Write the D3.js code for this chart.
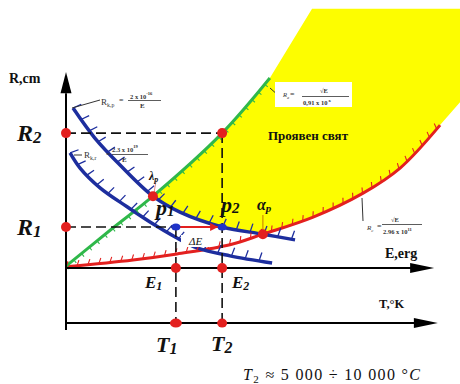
<!DOCTYPE html>
<html><head><meta charset="utf-8">
<script src="https://cdn.jsdelivr.net/npm/d3@7"></script>
<style>body{margin:0;background:#fff}svg{display:block}</style>
</head><body>
<svg id="c" width="460" height="384"></svg>
<script>
// ---- data (schematic units: E 0..10, R 0..5) ----
const redCurve   = [[0,0.03],[1.81,0.21],[3.0,0.37],[4.43,0.61],[5.32,0.89],[6.68,1.34],[8.03,1.97],[9.03,2.63],[10.11,3.76]];
const greenLine  = [[0,0.05],[1.2,1.0],[2.35,1.89],[4.22,3.55],[5.51,5.0]];
const blueUpper  = [[0.19,4.21],[0.78,3.42],[1.46,2.71],[2.35,1.89],[3.08,1.47],[4.22,1.08],[5.32,0.89],[6.19,0.74]];
const blueLower  = [[0.11,3.03],[0.38,2.63],[0.92,2.11],[1.65,1.61],[2.27,1.21],[3.0,0.79],[3.54,0.53],[4.43,0.32],[5.57,0.13]];
const litCorner  = [[6.65,6.82],[10.7,6.82],[10.7,4.42]];
const lambdaP    = [2.35,1.89];
const alphaP     = [5.32,0.89];
const rLevels    = [3.55,1.08];
const rSubs      = ["2","1"];
const eLevels    = [2.97,4.22];
const eSubs      = ["1","2"];
const tSubs      = ["1","2"];
const tAxisR     = -1.45;
const axisLabels = ["R,cm","E,erg","T,°K"];

const svg = d3.select("#c");
const x = d3.scaleLinear().domain([0,10]).range([66,436]);
const y = d3.scaleLinear().domain([0,5]).range([268,78]);
const line = d3.line().x(d=>x(d[0])).y(d=>y(d[1])).curve(d3.curveCatmullRom.alpha(0.5));

const BLUE="#1d2e9e", RED="#e3201f", GREEN="#2fb84a", YELLOW="#fdfd00";
const SERIF="'Liberation Serif','DejaVu Serif',serif";

const gYellow = svg.append("g");
const gCurves = svg.append("g");
const gTicks  = svg.append("g");

const redP   = gCurves.append("path").attr("d",line(redCurve)).attr("fill","none").attr("stroke",RED).attr("stroke-width",3);
const greenP = gCurves.append("path").attr("d",line(greenLine)).attr("fill","none").attr("stroke",GREEN).attr("stroke-width",3);
const bluU   = gCurves.append("path").attr("d",line(blueUpper)).attr("fill","none").attr("stroke",BLUE).attr("stroke-width",3.5);
const bluL   = gCurves.append("path").attr("d",line(blueLower)).attr("fill","none").attr("stroke",BLUE).attr("stroke-width",3.5);

function sample(node,step=1){
  const L=node.getTotalLength(), pts=[];
  for(let s=0;s<=L;s+=step){const p=node.getPointAtLength(s);pts.push([p.x,p.y]);}
  const p=node.getPointAtLength(L);pts.push([p.x,p.y]);return pts;
}
const lx=x(lambdaP[0]), ax=x(alphaP[0]);
const gS=sample(greenP.node()).filter(p=>p[0]>=lx);
const rS=sample(redP.node()).filter(p=>p[0]>=ax).reverse();
const bS=sample(bluU.node()).filter(p=>p[0]>=lx&&p[0]<=ax).reverse();
const poly=[...gS, ...litCorner.map(d=>[x(d[0]),y(d[1])]), ...rS, ...bS];
gYellow.append("path").attr("d","M"+poly.map(p=>p.join(",")).join("L")+"Z").attr("fill",YELLOW);

function hatch(node,spacing,len,angle,side,color,w){
  const L=node.getTotalLength(), a=angle*Math.PI/180;
  for(let s=0;s<=L-1;s+=spacing){
    const p=node.getPointAtLength(s), q=node.getPointAtLength(Math.min(s+1,L));
    let tx=q.x-p.x, ty=q.y-p.y; const m=Math.hypot(tx,ty)||1; tx/=m; ty/=m;
    const nx=ty*side, ny=-tx*side;
    const dx=nx*Math.cos(a)+tx*Math.sin(a), dy=ny*Math.cos(a)+ty*Math.sin(a);
    gTicks.append("line").attr("x1",p.x).attr("y1",p.y).attr("x2",p.x+dx*len).attr("y2",p.y+dy*len)
      .attr("stroke",color).attr("stroke-width",w);
  }
}
hatch(bluU.node(),14,9,10,1,BLUE,1.3);
hatch(bluL.node(),14,9,10,1,BLUE,1.3);
hatch(redP.node(),11,6,25,1,RED,1.1);
hatch(greenP.node(),10,4,0,-1,GREEN,1.1);

// dashed guides
const dash="10,5";
const gD=svg.append("g").attr("stroke","#111").attr("stroke-width",1.6).attr("stroke-dasharray",dash);
gD.append("line").attr("x1",x(0)).attr("x2",x(eLevels[1])).attr("y1",y(rLevels[0])).attr("y2",y(rLevels[0]));
gD.append("line").attr("x1",x(eLevels[1])).attr("x2",x(eLevels[1])).attr("y1",y(rLevels[0])).attr("y2",y(tAxisR));
gD.append("line").attr("x1",x(0)).attr("x2",x(eLevels[0])).attr("y1",y(rLevels[1])).attr("y2",y(rLevels[1]));
gD.append("line").attr("x1",x(eLevels[0])).attr("x2",x(eLevels[0])).attr("y1",y(rLevels[1])).attr("y2",y(tAxisR));

// axes
const gA=svg.append("g");
gA.append("line").attr("x1",x(0)).attr("x2",x(0)).attr("y1",y(-1.63)).attr("y2",y(4.6)).attr("stroke","#000").attr("stroke-width",2);
gA.append("path").attr("d",`M${x(0)},${y(5.16)}L${x(0)-5.5},${y(4.6)}L${x(0)+5.5},${y(4.6)}Z`).attr("fill","#000");
[[0,9.95],[tAxisR,10.05]].forEach(([r,e])=>{
  gA.append("line").attr("x1",x(0)).attr("x2",x(e)-20).attr("y1",y(r)).attr("y2",y(r)).attr("stroke","#000").attr("stroke-width",2);
  gA.append("path").attr("d",`M${x(e)},${y(r)}L${x(e)-24},${y(r)-5}L${x(e)-24},${y(r)+5}Z`).attr("fill","#000");
});

// white box behind ΔE
svg.append("rect").attr("x",181).attr("y",235).attr("width",30).attr("height",12).attr("fill","#fff");

// label annotations / leader lines
const gL=svg.append("g").attr("stroke","#333").attr("stroke-width",1);
gL.append("line").attr("x1",72).attr("y1",108).attr("x2",100).attr("y2",100);
gL.append("line").attr("x1",74).attr("y1",155).attr("x2",82).attr("y2",155);
gL.append("line").attr("x1",362).attr("y1",198).attr("x2",363).attr("y2",221);
svg.append("rect").attr("x",275).attr("y",82).attr("width",77).attr("height",25).attr("fill","#fff");
gL.append("line").attr("x1",270).attr("y1",88).attr("x2",279).attr("y2",96);
svg.append("line").attr("x1",156).attr("y1",181).attr("x2",154).attr("y2",193).attr("stroke","#e58a8a").attr("stroke-width",1);
svg.append("line").attr("x1",x(alphaP[0])).attr("y1",215).attr("x2",x(alphaP[0])).attr("y2",y(alphaP[1])).attr("stroke","#d9a400").attr("stroke-width",1.5);

// red arrow p1 -> p2
svg.append("defs").append("marker").attr("id","ra").attr("viewBox","0 0 10 10").attr("refX",10).attr("refY",5)
  .attr("markerWidth",9).attr("markerHeight",8).attr("markerUnits","userSpaceOnUse").attr("orient","auto")
  .append("path").attr("d","M0,0L10,5L0,10Z").attr("fill",RED);
svg.append("line").attr("x1",x(eLevels[0])+4).attr("x2",x(eLevels[1])-4).attr("y1",y(rLevels[1])).attr("y2",y(rLevels[1]))
  .attr("stroke",RED).attr("stroke-width",2).attr("marker-end","url(#ra)");

// dots
const reds=[[0,rLevels[0]],[eLevels[1],rLevels[0]],[0,rLevels[1]],lambdaP,alphaP,[eLevels[0],0],[eLevels[1],0]];
svg.selectAll(".rd").data(reds).enter().append("circle").attr("cx",d=>x(d[0])).attr("cy",d=>y(d[1])).attr("r",5).attr("fill",RED);
svg.selectAll(".td").data(eLevels).enter().append("ellipse").attr("cx",d=>x(d)).attr("cy",y(tAxisR)).attr("rx",(d,i)=>i?5:6).attr("ry",4.5).attr("fill",RED);
svg.selectAll(".bd").data(eLevels).enter().append("ellipse").attr("cx",d=>x(d)).attr("cy",y(rLevels[1])).attr("rx",4.5).attr("ry",3.5).attr("fill","#1f33c8");

// text helpers
function txt(xp,yp,size,opts={}){
  return svg.append("text").attr("x",xp).attr("y",yp).attr("font-family",SERIF).attr("font-size",size)
    .attr("font-weight",opts.bold?"bold":"normal").attr("font-style",opts.italic?"italic":"normal").attr("fill",opts.fill||"#111");
}
// axis titles
txt(9,83,14,{bold:true}).text(axisLabels[0]);
txt(385,258,14,{bold:true}).text(axisLabels[1]);
txt(379,308,12.5,{bold:true}).text(axisLabels[2]);

// R labels
rLevels.forEach((r,i)=>{
  const t=txt(17,y(r)+8,24,{bold:true,italic:true});
  t.append("tspan").text("R");
  t.append("tspan").attr("font-size",17).attr("dy",2).text(rSubs[i]);
});
// E labels
[[145,288],[232,288]].forEach((p,i)=>{
  const t=txt(p[0],p[1],17,{bold:true,italic:true});
  t.append("tspan").text("E"); t.append("tspan").attr("font-size",12).attr("dy",2).text(eSubs[i]);
});
// T labels
[[156,352],[211,351]].forEach((p,i)=>{
  const t=txt(p[0],p[1],22,{bold:true,italic:true});
  t.append("tspan").text("T"); t.append("tspan").attr("font-size",16).attr("dy",2).text(tSubs[i]);
});
// p labels
[[156,215],[221,212]].forEach((p,i)=>{
  const t=txt(p[0],p[1],22,{bold:true,italic:true});
  t.append("tspan").text("p"); t.append("tspan").attr("font-size",15).attr("dy",1).text(eSubs[i]);
});
// alpha_p, lambda_p
{const t=txt(257,210,16,{bold:true,italic:true}); t.append("tspan").text("α"); t.append("tspan").attr("font-size",11).attr("dy",2).text("p");}
{const t=txt(149,180,12,{italic:true,bold:true}); t.append("tspan").text("λ"); t.append("tspan").attr("font-size",8).attr("dy",2).text("p");}
txt(189,245,11,{italic:true}).text("ΔE");

// region label
txt(268,140,13.5,{bold:true}).attr("textLength",80).attr("lengthAdjust","spacingAndGlyphs").text("Проявен свят");

// formula labels
function formula(o){
  const g=svg.append("g").attr("font-family",SERIF).attr("fill","#333");
  const a=g.append("text").attr("x",o.rx).attr("y",o.ry).attr("font-size",o.rs).attr("font-style",o.it?"italic":"normal");
  a.append("tspan").text("R"); a.append("tspan").attr("font-size",o.rs*0.65).attr("dy",2).text(o.sub);
  g.append("text").attr("x",o.ex).attr("y",o.ey).attr("font-size",8).text("=");
  const n=g.append("text").attr("x",o.nx).attr("y",o.ny).attr("font-size",o.ns).attr("font-weight","bold");
  n.append("tspan").text(o.num); if(o.sup) n.append("tspan").attr("font-size",o.ns*0.7).attr("dy",-4).text(o.sup);
  g.append("line").attr("x1",o.b0).attr("x2",o.b1).attr("y1",o.by).attr("y2",o.by).attr("stroke","#333").attr("stroke-width",0.8);
  const d=g.append("text").attr("x",o.dx).attr("y",o.dy).attr("font-size",o.ds).attr("font-weight","bold");
  d.append("tspan").text(o.den); if(o.dsup) d.append("tspan").attr("font-size",o.ds*0.7).attr("dy",-3).text(o.dsup);
}
formula({rx:101,ry:105,rs:9,sub:"k,p",ex:119,ey:103,nx:130,ny:99,ns:6.5,num:"2 x 10",sup:"-16",b0:128,b1:161,by:100.5,dx:140,dy:108,ds:7,den:"E"});
formula({rx:84,ry:158,rs:9,sub:"k,r",ex:106,ey:157,nx:112,ny:152,ns:6.5,num:"2.3  x 10",sup:"19",b0:112,b1:148,by:154.5,dx:122,dy:162,ds:7,den:"E"});
formula({rx:367,ry:230,rs:7,it:true,sub:"c",ex:377,ey:229,nx:391,ny:222,ns:6.5,num:"√E",b0:382,b1:422,by:224.5,dx:383,dy:234,ds:6.5,den:"2.96 x 10",dsup:"11"});
formula({rx:283,ry:97,rs:6.5,it:true,sub:"a",ex:290,ey:97,nx:320,ny:93,ns:6.5,num:"√E",b0:302,b1:349,by:96.5,dx:303,dy:104.5,ds:6.5,den:"0,91 x 10",dsup:" x"});

// bottom note
{const t=txt(243,380,16,{}).attr("textLength",177).attr("lengthAdjust","spacing");
 t.append("tspan").attr("font-style","italic").text("T");
 t.append("tspan").attr("font-size",11).attr("dy",3).text("2");
 t.append("tspan").attr("dy",-3).text(" ≈ 5 000  ÷  10 000 °");
 t.append("tspan").attr("font-style","italic").text("C");}
</script>
</body></html>
